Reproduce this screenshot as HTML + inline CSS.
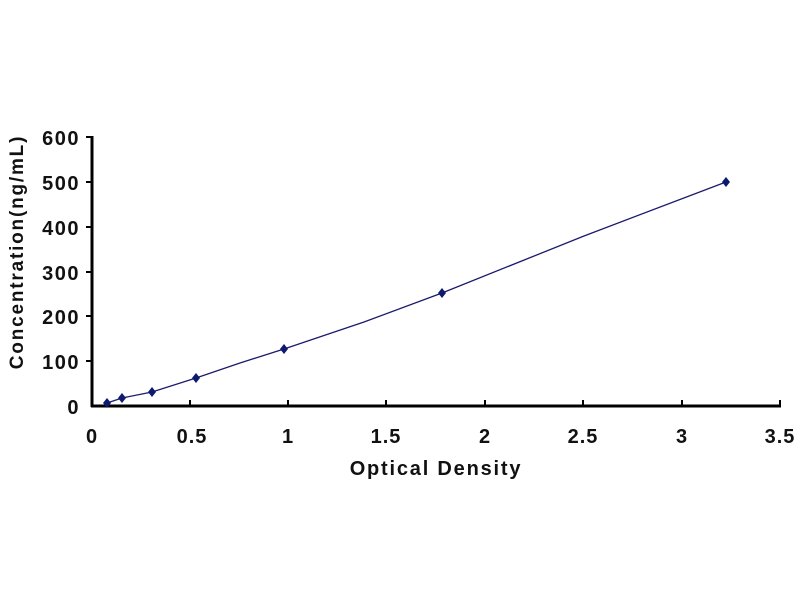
<!DOCTYPE html>
<html><head><meta charset="utf-8"><style>body{margin:0;background:#fff}svg{display:block}</style></head><body>
<svg width="800" height="600" xmlns="http://www.w3.org/2000/svg" font-family="Liberation Sans, sans-serif" font-weight="bold">
<rect width="800" height="600" fill="#fff"/>
<g stroke="#000" stroke-width="3" fill="none">
<line x1="92" y1="136" x2="92" y2="407"/>
<line x1="91" y1="406" x2="781" y2="406"/>
</g>
<g stroke="#000" stroke-width="2">
<line x1="86" y1="137" x2="92" y2="137"/><line x1="86" y1="182" x2="92" y2="182"/><line x1="86" y1="227" x2="92" y2="227"/><line x1="86" y1="272" x2="92" y2="272"/><line x1="86" y1="316" x2="92" y2="316"/><line x1="86" y1="361" x2="92" y2="361"/>
<line x1="190" y1="400" x2="190" y2="406"/><line x1="288" y1="400" x2="288" y2="406"/><line x1="386" y1="400" x2="386" y2="406"/><line x1="485" y1="400" x2="485" y2="406"/><line x1="583" y1="400" x2="583" y2="406"/><line x1="682" y1="400" x2="682" y2="406"/><line x1="780" y1="400" x2="780" y2="406"/>
</g>
<g font-size="20" text-anchor="end" fill="#111" letter-spacing="1.5">
<text x="80" y="145">600</text><text x="80" y="190">500</text><text x="80" y="235">400</text><text x="80" y="280">300</text><text x="80" y="324">200</text><text x="80" y="369">100</text><text x="80" y="414">0</text>
</g>
<g font-size="20" text-anchor="middle" fill="#111" letter-spacing="1">
<text x="92" y="443">0</text><text x="192" y="443">0.5</text><text x="288" y="443">1</text><text x="386" y="443">1.5</text><text x="485" y="443">2</text><text x="583" y="443">2.5</text><text x="682" y="443">3</text><text x="780" y="443">3.5</text>
</g>
<text x="436" y="475" font-size="20" text-anchor="middle" fill="#111" letter-spacing="1.8">Optical Density</text>
<text transform="translate(23,252) rotate(-90)" font-size="19" text-anchor="middle" fill="#111" letter-spacing="1.8">Concentration(ng/mL)</text>
<polyline fill="none" stroke="#1a1a6e" stroke-width="1.3" points="107,403 122,398 152,392 196,378 240,363 284,349 364,322 442,293 584,236 726,182"/>
<g fill="#0d1a6e">
<path d="M107 398l4 5-4 5-4-5z"/><path d="M122 393l4 5-4 5-4-5z"/><path d="M152 387l4 5-4 5-4-5z"/><path d="M196 373l4 5-4 5-4-5z"/><path d="M284 344l4 5-4 5-4-5z"/><path d="M442 288l4 5-4 5-4-5z"/><path d="M726 177l4 5-4 5-4-5z"/>
</g>
</svg>
</body></html>
